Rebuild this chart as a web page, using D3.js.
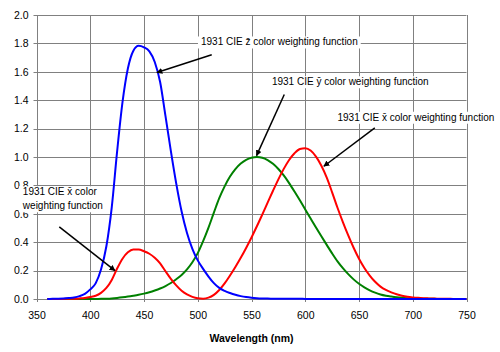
<!DOCTYPE html>
<html>
<head>
<meta charset="utf-8">
<script src="https://cdn.jsdelivr.net/npm/d3@7"></script>
<style>
  body { margin: 0; background: #fff; }
  svg { display: block; font-family: "Liberation Sans", Arial, sans-serif; }
</style>
</head>
<body>
<svg id="chart" width="500" height="352"></svg>
<script>
// wavelengths (nm), 5 nm steps
const wavelengths = [360, 365, 370, 375, 380, 385, 390, 395, 400, 405, 410, 415, 420, 425, 430, 435, 440, 445, 450, 455,
    460, 465, 470, 475, 480, 485, 490, 495, 500, 505, 510, 515, 520, 525, 530, 535, 540, 545, 550, 555,
    560, 565, 570, 575, 580, 585, 590, 595, 600, 605, 610, 615, 620, 625, 630, 635, 640, 645, 650, 655,
    660, 665, 670, 675, 680, 685, 690, 695, 700, 705, 710, 715, 720, 725, 730, 735, 740, 745, 750];

const xBar = [0.000130, 0.000232, 0.000415, 0.000742, 0.001368, 0.002236, 0.004243, 0.007650, 0.014310, 0.023190,
    0.043510, 0.077630, 0.134380, 0.214770, 0.283900, 0.328500, 0.348280, 0.348060, 0.336200, 0.318700,
    0.290800, 0.251100, 0.195360, 0.142100, 0.095640, 0.057950, 0.032010, 0.014700, 0.004900, 0.002400,
    0.009300, 0.029100, 0.063270, 0.109600, 0.165500, 0.225750, 0.290400, 0.359700, 0.433450, 0.512050,
    0.594500, 0.678400, 0.762100, 0.842500, 0.916300, 0.978600, 1.026300, 1.056700, 1.062200, 1.045600,
    1.002600, 0.938400, 0.854450, 0.751400, 0.642400, 0.541900, 0.447900, 0.360800, 0.283500, 0.218700,
    0.164900, 0.121200, 0.087400, 0.063600, 0.046770, 0.032900, 0.022700, 0.015840, 0.011359, 0.008111,
    0.005790, 0.004109, 0.002899, 0.002049, 0.001440, 0.001000, 0.000690, 0.000476, 0.000332];

const yBar = [0.000004, 0.000007, 0.000012, 0.000022, 0.000039, 0.000064, 0.000120, 0.000217, 0.000396, 0.000640,
    0.001210, 0.002180, 0.004000, 0.007300, 0.011600, 0.016840, 0.023000, 0.029800, 0.038000, 0.048000,
    0.060000, 0.073900, 0.090980, 0.112600, 0.139020, 0.169300, 0.208020, 0.258600, 0.323000, 0.407300,
    0.503000, 0.608200, 0.710000, 0.793200, 0.862000, 0.914850, 0.954000, 0.980300, 0.994950, 1.000000,
    0.995000, 0.978600, 0.952000, 0.915400, 0.870000, 0.816300, 0.757000, 0.694900, 0.631000, 0.566800,
    0.503000, 0.441200, 0.381000, 0.321000, 0.265000, 0.217000, 0.175000, 0.138200, 0.107000, 0.081600,
    0.061000, 0.044580, 0.032000, 0.023200, 0.017000, 0.011920, 0.008210, 0.005723, 0.004102, 0.002929,
    0.002091, 0.001484, 0.001047, 0.000740, 0.000520, 0.000361, 0.000249, 0.000172, 0.000120];

const zBar = [0.000606, 0.001086, 0.001946, 0.003486, 0.006450, 0.010550, 0.020050, 0.036210, 0.067850, 0.110200,
    0.207400, 0.371300, 0.645600, 1.039050, 1.385600, 1.622960, 1.747060, 1.782600, 1.772110, 1.744100,
    1.669200, 1.528100, 1.287640, 1.041900, 0.812950, 0.616200, 0.465180, 0.353300, 0.272000, 0.212300,
    0.158200, 0.111700, 0.078250, 0.057250, 0.042160, 0.029840, 0.020300, 0.013400, 0.008750, 0.005750,
    0.003900, 0.002750, 0.002100, 0.001800, 0.001650, 0.001400, 0.001100, 0.001000, 0.000800, 0.000600,
    0.000340, 0.000240, 0.000190, 0.000100, 0.000050, 0.000030, 0.000020, 0.000010, 0, 0,
    0, 0, 0, 0, 0, 0, 0, 0, 0, 0,
    0, 0, 0, 0, 0, 0, 0, 0, 0];

const xTicks = [350, 400, 450, 500, 550, 600, 650, 700, 750];
const yTicks = [0, 0.2, 0.4, 0.6, 0.8, 1.0, 1.2, 1.4, 1.6, 1.8, 2.0];

const seriesNames = ['y', 'x', 'z'];
const seriesColors = ['#008000', '#ff0000', '#0000ff'];
const seriesValues = [yBar, xBar, zBar];

// annotations: label lines, label anchor [nm, value], arrow start and tip [nm, value]
const notes = [
    { lines: ['1931 CIE z\u0304 color weighting function'], at: [503, 1.81], from: [513, 1.72], to: [462, 1.595] },
    { lines: ['1931 CIE y\u0304 color weighting function'], at: [569, 1.53], from: [580.5, 1.44], to: [554.7, 1.01] },
    { lines: ['1931 CIE x\u0304 color weighting function'], at: [630, 1.28], from: [664.7, 1.205], to: [617.3, 0.935] },
    { lines: ['1931 CIE x\u0304 color', 'weighting function'], at: [337.3, 0.755], from: [371.2, 0.508], to: [423, 0.2] }
];

const svg = d3.select('#chart');
const margin = { left: 36.5, right: 33.5, top: 15, bottom: 53 };
const width = 500, height = 352;

const x = d3.scaleLinear().domain([350, 750]).range([margin.left, width - margin.right]);
const y = d3.scaleLinear().domain([0, 2]).range([height - margin.bottom, margin.top]);

svg.append('rect').attr('width', width).attr('height', height).attr('fill', '#fff');

// grid
const grid = svg.append('g').attr('stroke', '#808080').attr('stroke-width', 1);
grid.selectAll('line.v')
    .data(xTicks)
    .join('line')
    .attr('class', 'v')
    .attr('x1', d => Math.round(x(d)) + 0.5)
    .attr('x2', d => Math.round(x(d)) + 0.5)
    .attr('y1', y(2))
    .attr('y2', y(0) + 3);
grid.selectAll('line.h')
    .data(yTicks)
    .join('line')
    .attr('class', 'h')
    .attr('x1', x(350) - 3)
    .attr('x2', x(750))
    .attr('y1', d => Math.round(y(d)) + 0.5)
    .attr('y2', d => Math.round(y(d)) + 0.5);

// axes
svg.append('g')
    .attr('transform', `translate(0,${y(0)})`)
    .call(d3.axisBottom(x).tickValues(xTicks).tickSize(0).tickPadding(13))
    .call(g => g.select('.domain').remove())
    .selectAll('text')
    .attr('font-size', 10.5)
    .attr('font-family', '"Liberation Sans", Arial, sans-serif')
    .attr('fill', '#000');

svg.append('g')
    .attr('transform', `translate(${x(350)},0)`)
    .call(d3.axisLeft(y).tickValues(yTicks).tickFormat(d3.format('.1f')).tickSize(0).tickPadding(8))
    .call(g => g.select('.domain').remove())
    .selectAll('text')
    .attr('font-size', 10.5)
    .attr('font-family', '"Liberation Sans", Arial, sans-serif')
    .attr('fill', '#000');

svg.append('text')
    .attr('x', x(550))
    .attr('y', 342)
    .attr('text-anchor', 'middle')
    .attr('font-size', 10.5)
    .attr('font-weight', 'bold')
    .text('Wavelength (nm)');

// curves
const line = d3.line()
    .x((d, i) => x(wavelengths[i]))
    .y(d => y(d))
    .curve(d3.curveMonotoneX);

svg.append('g')
    .selectAll('path')
    .data(seriesValues)
    .join('path')
    .attr('fill', 'none')
    .attr('stroke', (d, i) => seriesColors[i])
    .attr('stroke-width', 2)
    .attr('d', d => line(d));

// annotation labels with white boxes
svg.append('defs').append('marker')
    .attr('id', 'head')
    .attr('viewBox', '0 0 10 10')
    .attr('refX', 9).attr('refY', 5)
    .attr('markerWidth', 6).attr('markerHeight', 6)
    .attr('markerUnits', 'userSpaceOnUse')
    .attr('orient', 'auto')
    .append('path')
    .attr('d', 'M0,0 L10,5 L0,10 Z')
    .attr('fill', '#000');

const noteG = svg.append('g');
notes.forEach(n => {
    const g = noteG.append('g');
    const box = g.append('rect').attr('fill', '#fff');
    const t = g.append('text')
        .attr('font-size', 10)
        .attr('fill', '#000');
    n.lines.forEach((s, i) => {
        t.append('tspan')
            .attr('x', x(n.at[0]))
            .attr('y', y(n.at[1]) + 3.5 + i * 14)
            .text(s);
    });
    const bb = t.node().getBBox();
    box.attr('x', bb.x - 3).attr('y', bb.y)
        .attr('width', bb.width + 6).attr('height', bb.height + 1);
    g.append('line')
        .attr('x1', x(n.from[0])).attr('y1', y(n.from[1]))
        .attr('x2', x(n.to[0])).attr('y2', y(n.to[1]))
        .attr('stroke', '#000')
        .attr('stroke-width', 1.5)
        .attr('marker-end', 'url(#head)');
});
</script>
</body>
</html>
